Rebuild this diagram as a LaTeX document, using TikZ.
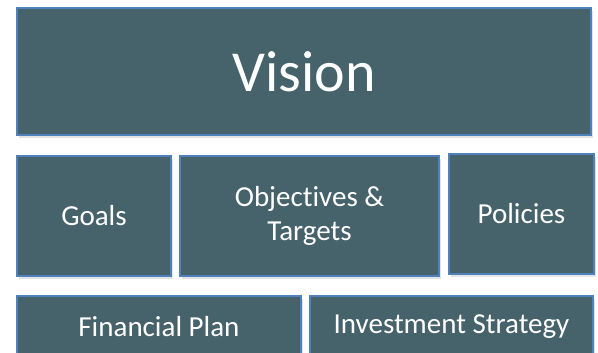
\documentclass[tikz,border=0pt]{standalone}
\usepackage{fontspec}
\setmainfont{Carlito}[Ligatures=NoCommon]
\usetikzlibrary{shadows}
\definecolor{slate}{RGB}{70,99,107}
\definecolor{edgeblue}{RGB}{79,129,189}

\begin{document}
\begin{tikzpicture}[x=1pt,y=-1pt,
  block/.style={draw=edgeblue, line width=1.4pt, fill=slate, text=white,
    align=center, inner sep=0pt,
    drop shadow={shadow xshift=2pt, shadow yshift=-3pt, opacity=0.22}},
  bigtext/.style={font=\fontsize{58}{70}\selectfont},
  smalltext/.style={font=\fontsize{29}{34}\selectfont}]
\useasboundingbox (0,0) rectangle (598,353);
\clip (0,0) rectangle (598,353);
\newcommand{\rowA}{216}
\newcommand{\rowB}{327}

% top banner
\node[block, bigtext, minimum width=574pt, minimum height=127pt] (vision) at (304,71.5) {Vision};

% middle row
\node[block, smalltext, minimum width=154pt, minimum height=120pt] (goals) at (94,\rowA) {Goals};
\node[block, smalltext, minimum width=259pt, minimum height=120pt] (objectives) at (309.5,\rowA) {Objectives \&\\Targets};
\node[block, smalltext, minimum width=145pt, minimum height=120pt] (policies) at (521.5,214) {Policies};

% bottom row, runs off the lower edge
\node[block, smalltext, minimum width=284pt, minimum height=62pt] (finance) at (159,\rowB) {Financial Plan};
\node[block, smalltext, minimum width=283pt, minimum height=62pt] (invest) at (451.5,\rowB) {Investment Strategy};

\end{tikzpicture}
\end{document}
